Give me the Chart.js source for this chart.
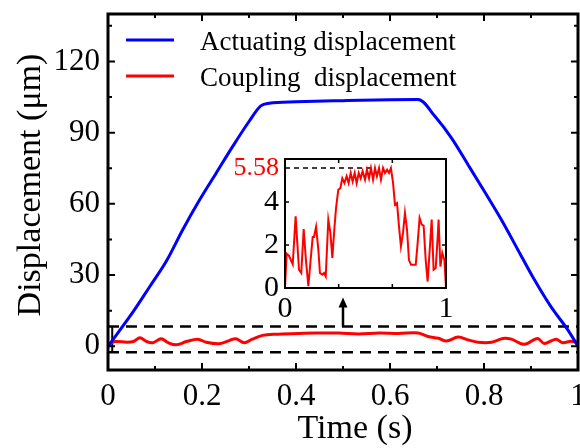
<!DOCTYPE html>
<html>
<head>
<meta charset="utf-8">
<script src="https://cdn.jsdelivr.net/npm/chart.js@4.4.0/dist/chart.umd.min.js"></script>
<style>
html,body{margin:0;padding:0;background:#fff;}
#wrap{position:relative;width:580px;height:448px;overflow:hidden;}
#main{position:absolute;left:0;top:0;}
#inset{position:absolute;left:220px;top:150px;}
</style>
</head>
<body>
<div id="wrap">
<canvas id="main" width="580" height="448"></canvas>
<canvas id="inset" width="240" height="170"></canvas>
</div>
<script>
// actuating displacement (um) vs time (s)
var timeActuating = [0, 0.054, 0.089, 0.124, 0.159, 0.195, 0.23, 0.265, 0.3, 0.325, 0.343, 0.4, 0.5, 0.6, 0.66,
                     0.696, 0.731, 0.766, 0.801, 0.837, 0.872, 0.907, 0.942, 0.978, 1.0];
var actuating = [0, 14.7, 25.2, 35.8, 49.1, 61.7, 72.9, 84.1, 94.7, 101.3, 102.4, 103.0, 103.5, 103.9, 104.0,
                 96.8, 87.7, 76.5, 65.2, 53.3, 40.7, 28.1, 16.8, 7.0, 0];

// coupling displacement as drawn in the main plot
var timeCoupling = [0, 0.015, 0.04, 0.054, 0.068, 0.082, 0.096, 0.113, 0.128, 0.145, 0.167, 0.191, 0.209, 0.237,
                    0.258, 0.272, 0.29, 0.307, 0.329, 0.357, 0.406, 0.441, 0.491, 0.533, 0.576, 0.618, 0.66,
                    0.681, 0.703, 0.72, 0.745, 0.766, 0.787, 0.816, 0.84, 0.858, 0.886, 0.914, 0.928, 0.953,
                    0.967, 0.985, 1.0];
var coupling = [0.6, 2.0, 1.7, 2.0, 3.6, 2.0, 1.5, 3.2, 1.5, 0.6, 2.0, 3.0, 1.7, 1.1,
                2.4, 3.2, 1.5, 3.0, 4.6, 5.1, 5.4, 5.6, 5.6, 5.2, 5.6, 5.4, 5.6,
                4.1, 3.4, 2.2, 3.9, 2.7, 1.7, 1.7, 3.3, 3.0, 0.8, 3.3, 1.2, 3.0,
                1.5, 2.1, 1.6];

// coupling displacement in the inset
var timeInset = [0, 0.010, 0.025, 0.048, 0.066, 0.087, 0.101, 0.116, 0.130, 0.145, 0.159, 0.172, 0.180, 0.193,
                 0.207, 0.217, 0.232, 0.242, 0.253, 0.269, 0.282, 0.294, 0.306, 0.317, 0.331, 0.344, 0.356,
                 0.369, 0.383, 0.395, 0.408, 0.420, 0.433, 0.445, 0.458, 0.470, 0.482, 0.497, 0.509, 0.522,
                 0.534, 0.547, 0.559, 0.571, 0.584, 0.596, 0.609, 0.621, 0.634, 0.646, 0.658, 0.671, 0.683,
                 0.696, 0.708, 0.720, 0.733, 0.745, 0.758, 0.770, 0.783, 0.797, 0.812, 0.824, 0.836, 0.849,
                 0.861, 0.874, 0.886, 0.899, 0.911, 0.923, 0.936, 0.948, 0.954, 0.965, 0.977, 0.990, 1.0];
var couplingInset = [0, 1.6, 1.5, 1.1, 3.33, 0.85, 0.7, 2.74, 1.3, 0.08, 1.3, 2.37, 2.37, 2.84,
                     1.8, 0.7, 0.62, 0.7, 0.54, 3.18, 2.56, 1.4, 2.7, 3.72, 4.57, 4.65, 5.1,
                     4.88, 5.2, 4.88, 5.35, 4.96, 5.35, 4.88, 5.35, 5.1, 5.43, 5.04, 5.5, 5.1,
                     5.58, 5.04, 5.58, 5.2, 5.58, 5.04, 5.58, 5.35, 5.5, 5.35, 5.58, 4.9, 3.88,
                     3.95, 2.87, 1.94, 2.56, 3.49, 2.7, 1.3, 1.08, 1.08, 1.08, 2.1, 3.26, 2.95,
                     2.9, 1.3, 0.3, 1.8, 3.18, 0.85, 0.93, 2.33, 3.18, 1.0, 1.63, 1.3, 0];

var xTicksMain = [0, 0.2, 0.4, 0.6, 0.8, 1];
var yTicksMain = [0, 30, 60, 90, 120];
var xTicksInset = [0, 1];
var yTicksInset = [0, 2, 4, 5.58];
var peakCoupling = 5.58;
var bandTop = 8.3, bandBottom = -2.5;
var arrowTime = 0.5, arrowTip = 20.5;

var serif = "'Liberation Serif', 'Times New Roman', serif";
Chart.defaults.font.family = serif;
Chart.defaults.color = '#000';

function pairs(xs, ys){
    var out = [];
    for(var i=0;i<xs.length;i++){
        out.push({x: xs[i], y: ys[i]});
    }
    return out;
}

function setTicks(list){
    return function(scale){
        scale.ticks = list.map(function(v){ return {value: v}; });
    };
}

// inward ticks on all four sides + frame
function drawFrame(chart, spec){
    var a = chart.chartArea, ctx = chart.ctx;
    var xs = chart.scales.x, ys = chart.scales.y;
    ctx.save();
    ctx.strokeStyle = '#000';
    ctx.lineWidth = spec.tickWidth;
    ctx.beginPath();
    spec.xMajor.forEach(function(v){
        var px = xs.getPixelForValue(v);
        ctx.moveTo(px, a.bottom); ctx.lineTo(px, a.bottom - spec.major);
        ctx.moveTo(px, a.top); ctx.lineTo(px, a.top + spec.major);
    });
    spec.xMinor.forEach(function(v){
        var px = xs.getPixelForValue(v);
        ctx.moveTo(px, a.bottom); ctx.lineTo(px, a.bottom - spec.minor);
        ctx.moveTo(px, a.top); ctx.lineTo(px, a.top + spec.minor);
    });
    spec.yMajor.forEach(function(v){
        var py = ys.getPixelForValue(v);
        ctx.moveTo(a.left, py); ctx.lineTo(a.left + spec.major, py);
        ctx.moveTo(a.right, py); ctx.lineTo(a.right - spec.major, py);
    });
    spec.yMinor.forEach(function(v){
        var py = ys.getPixelForValue(v);
        ctx.moveTo(a.left, py); ctx.lineTo(a.left + spec.minor, py);
        ctx.moveTo(a.right, py); ctx.lineTo(a.right - spec.minor, py);
    });
    ctx.stroke();
    ctx.lineWidth = spec.frameWidth;
    ctx.strokeRect(a.left, a.top, a.right - a.left, a.bottom - a.top);
    ctx.restore();
}

var mainDecor = {
    id: 'mainDecor',
    afterDatasetsDraw: function(chart){
        var ctx = chart.ctx, xs = chart.scales.x, ys = chart.scales.y;
        drawFrame(chart, {
            tickWidth: 2, frameWidth: 3, major: 7, minor: 4,
            xMajor: [0.2, 0.4, 0.6, 0.8], xMinor: [0.1, 0.3, 0.5, 0.7, 0.9],
            yMajor: [0, 30, 60, 90, 120], yMinor: [15, 45, 75, 105, 135]
        });
        ctx.save();
        // arrow pointing at the inset
        var ax = xs.getPixelForValue(arrowTime);
        var yBase = ys.getPixelForValue(bandTop), yTip = ys.getPixelForValue(arrowTip);
        ctx.strokeStyle = '#000'; ctx.fillStyle = '#000';
        ctx.lineWidth = 2.5;
        ctx.beginPath(); ctx.moveTo(ax, yBase); ctx.lineTo(ax, yTip + 8); ctx.stroke();
        ctx.beginPath(); ctx.moveTo(ax, yTip); ctx.lineTo(ax - 4.5, yTip + 10); ctx.lineTo(ax + 4.5, yTip + 10);
        ctx.closePath(); ctx.fill();

        // legend
        ctx.lineWidth = 3;
        ctx.strokeStyle = '#0000ff';
        ctx.beginPath(); ctx.moveTo(126, 40); ctx.lineTo(174, 40); ctx.stroke();
        ctx.strokeStyle = '#ff0000';
        ctx.beginPath(); ctx.moveTo(126, 76); ctx.lineTo(174, 76); ctx.stroke();
        ctx.fillStyle = '#000';
        ctx.font = '27px ' + serif;
        ctx.textAlign = 'left'; ctx.textBaseline = 'alphabetic';
        ctx.fillText('Actuating displacement', 200, 50);
        ctx.fillText('Coupling  displacement', 200, 86);

        // axis titles
        ctx.font = '34px ' + serif;
        ctx.textAlign = 'center'; ctx.textBaseline = 'middle';
        ctx.fillText('Time (s)', 355, 429);
        ctx.translate(31, 185);
        ctx.rotate(-Math.PI / 2);
        ctx.fillText('Displacement (\u03bcm)', 0, 0);
        ctx.restore();
    }
};

var insetDecor = {
    id: 'insetDecor',
    afterDatasetsDraw: function(chart){
        drawFrame(chart, {
            tickWidth: 1.5, frameWidth: 2, major: 4, minor: 4,
            xMajor: [1/3, 2/3], xMinor: [],
            yMajor: [2, 4], yMinor: []
        });
    }
};

new Chart(document.getElementById('main'), {
    type: 'scatter',
    data: {
        datasets: [
            {label: 'Actuating displacement', data: pairs(timeActuating, actuating), showLine: true,
             borderColor: '#0000ff', borderWidth: 3, pointRadius: 0, cubicInterpolationMode: 'monotone'},
            {label: 'Coupling displacement', data: pairs(timeCoupling, coupling), showLine: true,
             borderColor: '#ff0000', borderWidth: 3, pointRadius: 0, tension: 0.35},
            {label: 'band top', data: [{x: 0, y: bandTop}, {x: 1, y: bandTop}], showLine: true,
             borderColor: '#000', borderWidth: 2.5, borderDash: [11, 7], pointRadius: 0},
            {label: 'band bottom', data: [{x: 0, y: bandBottom}, {x: 1, y: bandBottom}], showLine: true,
             borderColor: '#000', borderWidth: 2.5, borderDash: [11, 7], pointRadius: 0},
            {label: 'band side', data: [{x: 0.009, y: bandBottom}, {x: 0.009, y: bandTop}], showLine: true,
             borderColor: '#000', borderWidth: 2, pointRadius: 0}
        ]
    },
    options: {
        responsive: false, animation: false, devicePixelRatio: 1,
        layout: {padding: {top: 14, right: 2, bottom: 0, left: 0}},
        plugins: {legend: {display: false}, tooltip: {enabled: false}},
        scales: {
            x: {
                type: 'linear', min: 0, max: 1,
                afterBuildTicks: setTicks(xTicksMain),
                afterFit: function(s){ s.height = 78; s.paddingLeft = 0; s.paddingRight = 0; },
                grid: {display: false, drawTicks: false}, border: {display: false},
                ticks: {font: {size: 31}, color: '#000', padding: 8, maxRotation: 0, autoSkip: false,
                        callback: function(v){ return String(v); }}
            },
            y: {
                type: 'linear', min: -10, max: 140,
                afterBuildTicks: setTicks(yTicksMain),
                afterFit: function(s){ s.width = 108; s.paddingTop = 0; s.paddingBottom = 0; },
                grid: {display: false, drawTicks: false}, border: {display: false},
                ticks: {font: {size: 31}, color: '#000', padding: 8,
                        callback: function(v){ return String(v); }}
            }
        }
    },
    plugins: [mainDecor]
});

new Chart(document.getElementById('inset'), {
    type: 'scatter',
    data: {
        datasets: [
            {label: 'Coupling displacement', data: pairs(timeInset, couplingInset), showLine: true,
             borderColor: '#ff0000', borderWidth: 2, pointRadius: 0, tension: 0},
            {label: 'peak', data: [{x: 0, y: peakCoupling}, {x: 0.56, y: peakCoupling}], showLine: true,
             borderColor: '#000', borderWidth: 1.5, borderDash: [5, 4], pointRadius: 0}
        ]
    },
    options: {
        responsive: false, animation: false, devicePixelRatio: 1,
        layout: {padding: {top: 9, right: 14, bottom: 0, left: 0}},
        plugins: {legend: {display: false}, tooltip: {enabled: false}},
        scales: {
            x: {
                type: 'linear', min: 0, max: 1,
                afterBuildTicks: setTicks(xTicksInset),
                afterFit: function(s){ s.height = 32; s.paddingLeft = 0; s.paddingRight = 0; },
                grid: {display: false, drawTicks: false}, border: {display: false},
                ticks: {font: {size: 30}, color: '#000', padding: 3, maxRotation: 0, autoSkip: false,
                        callback: function(v){ return String(v); }}
            },
            y: {
                type: 'linear', min: 0, max: 6,
                afterBuildTicks: setTicks(yTicksInset),
                afterFit: function(s){ s.width = 65; s.paddingTop = 0; s.paddingBottom = 0; },
                grid: {display: false, drawTicks: false}, border: {display: false},
                ticks: {
                    padding: 6,
                    color: function(c){ return c.tick && c.tick.value === peakCoupling ? '#ff0000' : '#000'; },
                    font: function(c){ return {size: c.tick && c.tick.value === peakCoupling ? 26 : 30}; },
                    callback: function(v){ return String(v); }
                }
            }
        }
    },
    plugins: [insetDecor]
});
</script>
</body>
</html>
